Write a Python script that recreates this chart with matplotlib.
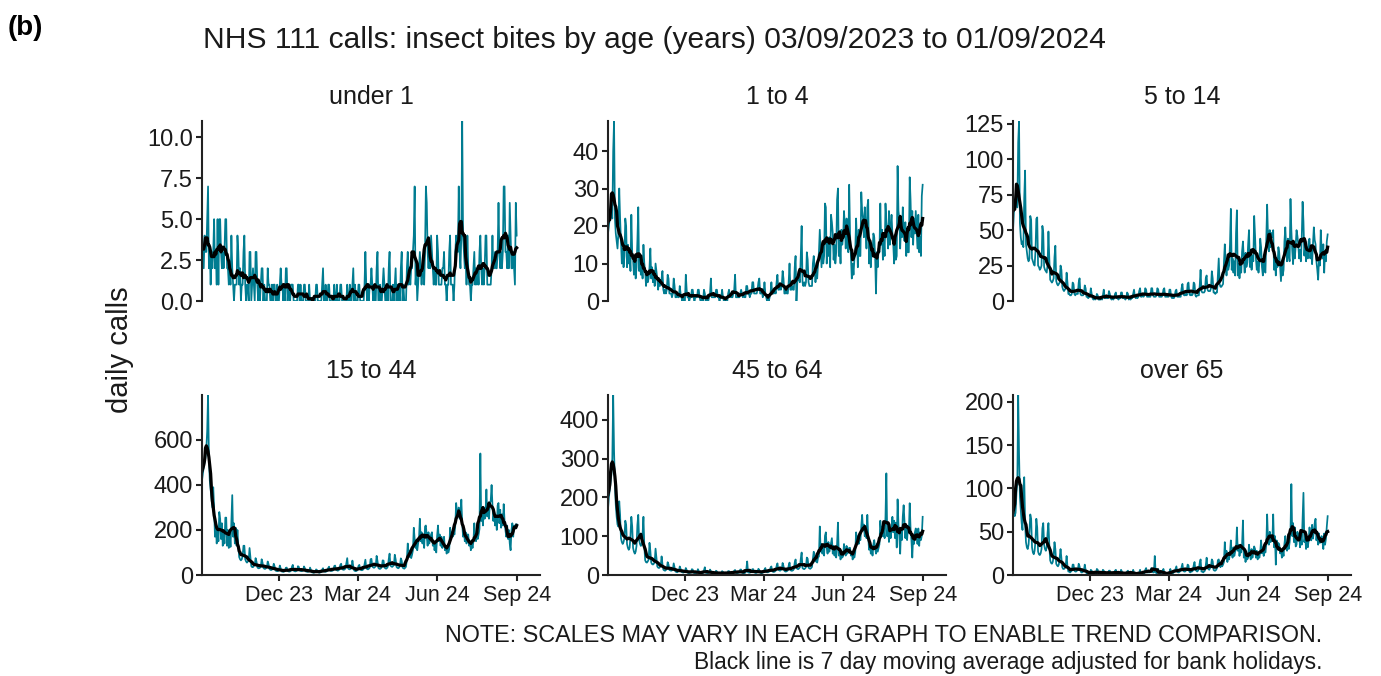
import matplotlib
matplotlib.use('Agg')
import matplotlib.pyplot as plt
import pandas as pd
from matplotlib.ticker import FormatStrFormatter

plt.rcParams['font.family'] = ['Liberation Sans', 'DejaVu Sans']

# daily calls, 03/09/2023 (Sunday) to 01/09/2024, one row per week (Sun..Sat)
under_1 = [
    4, 3, 2, 4, 3, 3, 5,
    7, 2, 3, 1, 3, 2, 3,
    5, 2, 3, 1, 5, 1, 5,
    5, 3, 2, 3, 2, 3, 5,
    5, 2, 2, 1, 2, 1, 4,
    2, 1, 0, 1, 1, 1, 4,
    3, 1, 2, 0, 1, 1, 3,
    4, 1, 0, 1, 1, 0, 3,
    3, 0, 1, 2, 1, 0, 3,
    3, 1, 0, 1, 0, 1, 2,
    2, 0, 1, 0, 0, 0, 2,
    1, 1, 0, 0, 1, 0, 1,
    1, 0, 0, 1, 0, 0, 1,
    2, 1, 1, 0, 1, 0, 2,
    2, 0, 1, 1, 0, 1, 1,
    1, 0, 0, 0, 0, 0, 1,
    1, 0, 1, 0, 0, 0, 1,
    1, 0, 0, 0, 0, 1, 0,
    0, 0, 0, 0, 0, 0, 1,
    1, 0, 0, 0, 0, 0, 1,
    2, 0, 0, 1, 0, 0, 1,
    1, 0, 0, 0, 0, 0, 1,
    0, 0, 1, 0, 0, 0, 1,
    1, 0, 0, 0, 0, 0, 0,
    1, 0, 0, 1, 0, 0, 1,
    2, 0, 1, 0, 0, 0, 1,
    1, 0, 0, 0, 0, 0, 1,
    3, 1, 0, 1, 0, 1, 1,
    2, 1, 0, 1, 0, 0, 2,
    3, 0, 0, 1, 0, 0, 1,
    2, 1, 0, 0, 1, 0, 2,
    3, 0, 0, 0, 1, 0, 1,
    2, 0, 1, 0, 1, 0, 2,
    3, 0, 1, 0, 0, 0, 2,
    3, 1, 2, 1, 2, 2, 3,
    4, 7, 1, 2, 0, 1, 2,
    3, 2, 1, 2, 2, 1, 3,
    7, 6, 3, 2, 3, 2, 4,
    3, 2, 1, 2, 1, 1, 4,
    3, 1, 1, 1, 1, 2, 2,
    3, 1, 1, 0, 1, 1, 3,
    4, 1, 1, 1, 0, 1, 3,
    4, 3, 3, 7, 3, 2, 4,
    11, 4, 3, 2, 3, 1, 4,
    2, 1, 1, 0, 1, 1, 2,
    3, 1, 2, 1, 2, 1, 3,
    4, 2, 1, 2, 1, 2, 4,
    4, 1, 1, 1, 1, 1, 2,
    4, 2, 2, 3, 2, 2, 3,
    6, 3, 2, 3, 2, 3, 7,
    7, 3, 3, 2, 4, 2, 6,
    4, 2, 2, 3, 2, 1, 6,
    4,
]

age_1_4 = [
    18, 20, 22, 24, 24, 22, 40,
    48, 22, 18, 16, 14, 18, 30,
    22, 16, 10, 14, 9, 12, 22,
    20, 9, 15, 10, 13, 8, 23,
    13, 11, 7, 12, 6, 9, 16,
    25, 8, 12, 7, 11, 6, 15,
    10, 8, 4, 7, 5, 6, 9,
    14, 6, 9, 5, 8, 4, 10,
    8, 6, 3, 6, 4, 5, 6,
    8, 3, 2, 3, 2, 3, 7,
    6, 2, 2, 2, 1, 2, 6,
    4, 1, 1, 2, 1, 1, 4,
    2, 1, 0, 1, 0, 0, 7,
    3, 1, 1, 0, 1, 1, 3,
    3, 1, 0, 1, 1, 1, 3,
    3, 1, 0, 0, 1, 0, 3,
    2, 0, 1, 0, 0, 1, 2,
    6, 1, 1, 1, 1, 1, 3,
    3, 1, 1, 0, 1, 1, 3,
    1, 0, 1, 0, 0, 0, 2,
    3, 1, 2, 1, 1, 2, 3,
    7, 1, 1, 1, 1, 1, 2,
    3, 2, 1, 2, 1, 1, 4,
    4, 2, 2, 1, 2, 2, 5,
    5, 2, 2, 2, 2, 3, 5,
    6, 2, 2, 3, 1, 2, 5,
    2, 1, 0, 1, 0, 1, 2,
    5, 2, 2, 2, 3, 2, 5,
    7, 3, 3, 4, 3, 4, 8,
    6, 2, 2, 3, 2, 2, 5,
    10, 3, 3, 4, 3, 3, 9,
    12, 0, 5, 6, 6, 5, 12,
    20, 5, 4, 5, 4, 5, 13,
    11, 5, 4, 4, 4, 4, 10,
    12, 9, 5, 8, 6, 10, 13,
    19, 14, 9, 15, 10, 12, 26,
    25, 10, 16, 12, 17, 9, 23,
    21, 18, 11, 15, 10, 13, 27,
    30, 12, 16, 10, 19, 15, 17,
    24, 20, 14, 22, 16, 13, 31,
    18, 12, 6, 10, 7, 11, 13,
    22, 16, 9, 19, 12, 12, 29,
    24, 22, 17, 25, 20, 14, 25,
    27, 10, 15, 9, 14, 12, 18,
    17, 12, 2, 13, 9, 14, 13,
    26, 15, 19, 11, 17, 12, 26,
    21, 19, 14, 24, 15, 20, 23,
    18, 15, 10, 17, 11, 12, 36,
    24, 22, 14, 20, 17, 25, 18,
    16, 21, 12, 18, 13, 13, 33,
    27, 17, 24, 15, 22, 18, 24,
    19, 14, 23, 13, 17, 12, 28,
    31,
]

age_5_14 = [
    50, 62, 70, 72, 68, 66, 112,
    127, 55, 45, 40, 42, 38, 73,
    92, 40, 35, 30, 28, 30, 60,
    57, 30, 28, 26, 25, 35, 58,
    59, 25, 24, 22, 23, 25, 53,
    48, 24, 22, 21, 20, 26, 49,
    30, 15, 14, 13, 14, 16, 31,
    39, 14, 12, 11, 12, 13, 25,
    22, 10, 8, 7, 8, 9, 20,
    13, 5, 5, 4, 4, 5, 13,
    12, 5, 4, 5, 5, 5, 13,
    16, 5, 4, 4, 4, 5, 11,
    9, 3, 3, 2, 3, 3, 9,
    5, 2, 1, 2, 1, 2, 5,
    4, 1, 1, 1, 2, 1, 4,
    8, 2, 2, 2, 2, 2, 7,
    5, 2, 1, 2, 1, 2, 5,
    6, 2, 2, 1, 2, 2, 6,
    6, 2, 2, 2, 1, 2, 6,
    5, 1, 2, 1, 2, 2, 5,
    8, 3, 2, 3, 2, 3, 7,
    9, 3, 3, 4, 3, 4, 9,
    8, 3, 3, 3, 3, 3, 9,
    9, 4, 3, 3, 3, 4, 9,
    8, 3, 3, 3, 3, 4, 8,
    9, 3, 3, 3, 3, 3, 8,
    8, 3, 2, 3, 2, 3, 7,
    8, 3, 3, 3, 3, 3, 9,
    12, 5, 4, 4, 5, 4, 12,
    13, 5, 4, 5, 4, 5, 13,
    12, 4, 3, 4, 4, 4, 11,
    22, 7, 6, 6, 6, 7, 16,
    18, 8, 7, 7, 7, 9, 21,
    16, 6, 6, 5, 6, 6, 18,
    30, 12, 10, 10, 11, 12, 27,
    40, 28, 18, 30, 22, 25, 40,
    65, 22, 30, 20, 28, 18, 48,
    64, 18, 26, 16, 24, 20, 35,
    42, 30, 20, 34, 24, 27, 40,
    50, 24, 36, 22, 32, 28, 60,
    46, 30, 22, 28, 20, 27, 44,
    38, 24, 18, 30, 22, 20, 44,
    68, 45, 35, 50, 38, 48, 45,
    50, 22, 30, 18, 28, 24, 38,
    34, 24, 14, 28, 18, 22, 42,
    52, 38, 28, 44, 32, 28, 72,
    50, 36, 26, 42, 30, 39, 50,
    46, 40, 30, 36, 28, 44, 70,
    56, 32, 40, 28, 38, 30, 42,
    44, 30, 38, 26, 40, 52, 43,
    40, 28, 22, 15, 30, 25, 50,
    36, 30, 40, 20, 35, 28, 42,
    47,
]

age_15_44 = [
    420, 450, 480, 500, 520, 560, 640,
    800, 520, 420, 380, 340, 300, 390,
    300, 170, 220, 140, 210, 150, 280,
    250, 160, 230, 130, 200, 140, 255,
    255, 130, 200, 120, 190, 125, 240,
    355, 170, 230, 140, 210, 130, 200,
    130, 80, 70, 65, 70, 85, 130,
    130, 70, 60, 55, 60, 65, 120,
    80, 40, 35, 35, 40, 45, 75,
    60, 35, 30, 30, 32, 37, 70,
    55, 32, 28, 27, 30, 34, 60,
    48, 27, 23, 22, 24, 30, 50,
    38, 20, 18, 17, 18, 22, 42,
    30, 16, 15, 14, 15, 18, 32,
    33, 18, 16, 15, 16, 20, 36,
    45, 20, 17, 16, 18, 20, 39,
    36, 20, 18, 17, 18, 21, 38,
    30, 16, 15, 14, 15, 17, 33,
    23, 12, 11, 10, 11, 13, 25,
    22, 13, 11, 10, 12, 13, 24,
    30, 16, 15, 14, 16, 18, 31,
    37, 21, 18, 18, 19, 22, 40,
    42, 23, 21, 19, 21, 25, 45,
    50, 27, 24, 23, 25, 30, 52,
    75, 30, 26, 25, 28, 32, 64,
    38, 20, 18, 17, 19, 23, 40,
    45, 25, 22, 21, 23, 27, 47,
    68, 30, 27, 25, 28, 32, 70,
    72, 38, 34, 32, 35, 40, 85,
    62, 32, 28, 27, 30, 36, 65,
    64, 34, 30, 28, 31, 37, 70,
    95, 42, 38, 36, 40, 44, 90,
    70, 36, 32, 30, 33, 40, 74,
    64, 33, 30, 28, 32, 37, 70,
    140, 95, 80, 110, 75, 90, 110,
    210, 160, 120, 150, 110, 140, 160,
    250, 150, 190, 140, 180, 120, 216,
    220, 170, 130, 190, 140, 160, 180,
    190, 130, 150, 110, 140, 100, 174,
    220, 150, 180, 130, 170, 120, 150,
    170, 110, 130, 95, 120, 100, 115,
    210, 160, 190, 170, 200, 180, 220,
    320, 280, 260, 300, 250, 250, 335,
    230, 170, 200, 150, 190, 140, 180,
    180, 130, 150, 110, 140, 120, 150,
    230, 170, 150, 200, 160, 180, 205,
    540, 240, 280, 220, 300, 250, 270,
    380, 260, 300, 250, 320, 330, 400,
    310, 240, 280, 220, 260, 200, 310,
    320, 230, 290, 210, 270, 220, 315,
    240, 200, 170, 220, 160, 200, 140,
    110, 200, 230, 170, 220, 210, 225,
    225,
]

age_45_64 = [
    170, 200, 220, 240, 260, 301, 464,
    320, 235, 180, 150, 130, 125, 190,
    155, 95, 85, 80, 85, 95, 140,
    130, 80, 70, 65, 70, 100, 150,
    125, 70, 60, 55, 60, 75, 129,
    155, 90, 80, 75, 80, 105, 150,
    75, 38, 33, 32, 35, 40, 83,
    62, 32, 28, 27, 29, 34, 68,
    45, 22, 19, 18, 20, 24, 48,
    28, 14, 12, 11, 13, 15, 33,
    27, 13, 12, 11, 12, 14, 30,
    19, 9, 8, 7, 9, 10, 22,
    16, 8, 7, 6, 7, 8, 18,
    13, 6, 5, 5, 6, 6, 15,
    14, 6, 5, 5, 5, 6, 15,
    10, 4, 4, 3, 4, 5, 12,
    20, 6, 5, 5, 6, 7, 14,
    10, 5, 4, 3, 4, 5, 11,
    9, 3, 3, 3, 3, 4, 10,
    8, 4, 3, 3, 3, 4, 10,
    10, 4, 4, 4, 4, 5, 11,
    13, 6, 5, 5, 6, 7, 14,
    14, 6, 5, 5, 5, 6, 15,
    35, 7, 6, 6, 7, 8, 15,
    15, 7, 6, 5, 6, 8, 16,
    13, 6, 5, 5, 6, 7, 14,
    18, 8, 7, 7, 8, 10, 19,
    22, 10, 8, 8, 9, 11, 23,
    30, 14, 12, 11, 13, 15, 31,
    23, 11, 9, 9, 10, 12, 24,
    32, 13, 11, 11, 12, 15, 32,
    40, 18, 16, 15, 17, 20, 42,
    58, 18, 16, 15, 17, 20, 45,
    42, 19, 17, 16, 18, 21, 42,
    60, 45, 35, 50, 32, 45, 48,
    125, 60, 80, 55, 75, 50, 101,
    110, 70, 55, 85, 60, 70, 82,
    95, 55, 75, 50, 70, 45, 79,
    135, 50, 60, 40, 55, 45, 49,
    80, 60, 50, 75, 55, 65, 70,
    70, 50, 60, 40, 55, 45, 58,
    110, 85, 100, 80, 95, 90, 126,
    155, 115, 130, 100, 125, 95, 155,
    100, 65, 80, 55, 75, 50, 79,
    90, 70, 55, 80, 60, 70, 79,
    140, 110, 125, 100, 120, 95, 150,
    262, 100, 130, 85, 120, 95, 118,
    150, 110, 140, 95, 135, 71, 195,
    130, 100, 55, 120, 90, 151, 180,
    140, 95, 130, 90, 125, 110, 185,
    120, 90, 45, 100, 80, 110, 120,
    110, 80, 120, 75, 110, 90, 101,
    150,
]

over_65 = [
    80, 70, 68, 72, 95, 107, 208,
    140, 90, 75, 60, 52, 100, 113,
    60, 38, 32, 30, 35, 50, 70,
    65, 32, 26, 24, 28, 40, 65,
    55, 27, 24, 23, 25, 30, 54,
    60, 35, 30, 28, 32, 49, 60,
    35, 17, 14, 13, 15, 22, 38,
    30, 13, 11, 10, 12, 20, 30,
    20, 9, 7, 7, 8, 11, 22,
    10, 4, 4, 3, 4, 5, 12,
    12, 5, 4, 4, 5, 6, 13,
    10, 5, 3, 3, 4, 5, 12,
    6, 2, 1, 2, 2, 2, 6,
    5, 2, 2, 1, 2, 2, 7,
    6, 2, 1, 2, 1, 3, 6,
    5, 1, 2, 1, 2, 2, 5,
    5, 2, 1, 1, 2, 2, 5,
    6, 2, 2, 1, 2, 2, 6,
    4, 1, 1, 1, 1, 2, 4,
    5, 2, 2, 2, 2, 2, 6,
    3, 1, 1, 0, 1, 1, 3,
    6, 2, 1, 2, 2, 2, 6,
    8, 3, 3, 3, 3, 4, 8,
    6, 3, 3, 22, 3, 2, 3,
    7, 3, 2, 2, 3, 4, 7,
    3, 1, 0, 1, 1, 1, 3,
    7, 3, 2, 2, 3, 4, 7,
    10, 4, 3, 3, 4, 5, 9,
    13, 5, 4, 4, 5, 6, 12,
    11, 4, 3, 4, 4, 5, 11,
    15, 6, 5, 4, 5, 7, 14,
    18, 4, 4, 3, 4, 5, 11,
    20, 8, 7, 6, 8, 10, 18,
    16, 6, 5, 5, 6, 8, 17,
    18, 12, 9, 15, 10, 12, 15,
    38, 20, 28, 15, 24, 18, 25,
    40, 25, 20, 32, 22, 27, 30,
    55, 28, 35, 22, 30, 26, 35,
    63, 20, 28, 15, 25, 18, 20,
    35, 25, 18, 30, 20, 28, 33,
    30, 20, 28, 18, 25, 20, 27,
    40, 25, 32, 22, 30, 26, 35,
    70, 40, 35, 50, 38, 42, 40,
    70, 32, 45, 12, 40, 30, 37,
    35, 25, 30, 20, 28, 22, 36,
    45, 35, 28, 40, 30, 38, 50,
    105, 45, 60, 38, 55, 33, 35,
    50, 40, 48, 32, 45, 35, 65,
    95, 38, 45, 30, 42, 32, 40,
    55, 45, 40, 58, 42, 50, 60,
    65, 40, 50, 35, 48, 37, 40,
    45, 38, 30, 48, 35, 42, 56,
    68,
]

panel_names = ['under 1', '1 to 4', '5 to 14', '15 to 44', '45 to 64', 'over 65']
panel_data = [under_1, age_1_4, age_5_14, age_15_44, age_45_64, over_65]
panel_yticks = [
    [0, 2.5, 5, 7.5, 10],
    [0, 10, 20, 30, 40],
    [0, 25, 50, 75, 100, 125],
    [0, 200, 400, 600],
    [0, 100, 200, 300, 400],
    [0, 50, 100, 150, 200],
]
xtick_dates = ['2023-12-01', '2024-03-01', '2024-06-01', '2024-09-01']
xtick_labels = ['Dec 23', 'Mar 24', 'Jun 24', 'Sep 24']

dates = pd.date_range('2023-09-03', '2024-09-01', freq='D')

W, H = 1381, 676
fig = plt.figure(figsize=(W / 100, H / 100), dpi=100)

teal = '#007C91'
axis_col = '#222222'
lefts = [202, 608, 1013]
bottoms = [301, 575]

for i, name in enumerate(panel_names):
    r, c = divmod(i, 3)
    s = pd.Series(panel_data[i], index=dates)
    ma = s.rolling(7, center=True, min_periods=1).mean()

    ax = fig.add_axes([lefts[c] / W, 1 - bottoms[r] / H, 338 / W, 180 / H])
    ax.plot(s.index, s.values, color=teal, lw=1.25)
    ax.plot(ma.index, ma.values, color='black', lw=2.3)

    ax.set_ylim(0, s.max())
    ax.set_xlim(pd.Timestamp('2023-09-03'), pd.Timestamp('2024-09-28'))
    ax.set_yticks(panel_yticks[i])
    if i == 0:
        ax.yaxis.set_major_formatter(FormatStrFormatter('%.1f'))

    for side in ['top', 'right']:
        ax.spines[side].set_visible(False)
    ax.spines['left'].set_linewidth(1.5)
    ax.spines['left'].set_color(axis_col)
    ax.tick_params(axis='y', length=4.5, width=1.5, color=axis_col,
                   labelsize=17, labelcolor='#1a1a1a', pad=2)

    if r == 0:
        ax.spines['bottom'].set_visible(False)
        ax.set_xticks([])
    else:
        ax.spines['bottom'].set_linewidth(1.5)
        ax.spines['bottom'].set_color(axis_col)
        ax.set_xticks([pd.Timestamp(d) for d in xtick_dates])
        ax.set_xticklabels(xtick_labels)
        ax.tick_params(axis='x', length=4.5, width=1.5, color=axis_col,
                       labelsize=15.5, labelcolor='#1a1a1a', pad=3)

    ax.set_title(name, fontsize=18, color='#1a1a1a', pad=12)

fig.text(8 / W, 1 - 28 / H, '(b)', fontsize=20, fontweight='bold', va='center', ha='left')
fig.text(654 / W, 1 - 40 / H,
         'NHS 111 calls: insect bites by age (years) 03/09/2023 to 01/09/2024',
         fontsize=21.6, ha='center', va='center', color='#1a1a1a')
fig.text(120 / W, 1 - 350 / H, 'daily calls', fontsize=21, rotation=90,
         ha='center', va='center', color='#1a1a1a')
fig.text(1322 / W, 1 - 636 / H,
         'NOTE: SCALES MAY VARY IN EACH GRAPH TO ENABLE TREND COMPARISON.',
         fontsize=16.8, ha='right', va='center', color='#1a1a1a')
fig.text(1322 / W, 1 - 662 / H,
         'Black line is 7 day moving average adjusted for bank holidays.',
         fontsize=16.4, ha='right', va='center', color='#1a1a1a')

fig.savefig('out.png', dpi=100)
